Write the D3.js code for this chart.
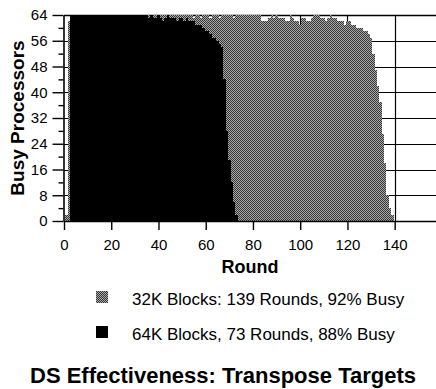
<!DOCTYPE html>
<html>
<head>
<meta charset="utf-8">
<script src="https://cdnjs.cloudflare.com/ajax/libs/d3/7.8.5/d3.min.js"></script>
<style>
    body { margin: 0; background: #fff; }
    svg { display: block; font-family: 'Liberation Sans', Arial, Helvetica, sans-serif; }
</style>
</head>
<body>
<div class="chart"></div>
<script>
// busy processors per round, round 1 first
var busy32k = [
    2, 62, 64, 64, 64, 64, 64, 64, 64, 64,
    64, 64, 64, 64, 64, 64, 64, 64, 64, 64,
    64, 64, 64, 64, 64, 64, 64, 64, 64, 64,
    64, 64, 64, 64, 64, 64, 64, 64, 64, 64,
    64, 64, 64, 64, 64, 64, 64, 64, 64, 64,
    64, 64, 64, 64, 63, 64, 64, 63, 64, 64,
    64, 63, 64, 64, 64, 63, 64, 64, 64, 64,
    64, 63, 64, 64, 64, 64, 64, 64, 64, 64,
    64, 64, 64, 62, 62, 62, 63, 64, 63, 64,
    63, 63, 63, 62, 62, 64, 63, 62, 62, 61,
    63, 63, 62, 62, 63, 64, 64, 64, 63, 63,
    62, 63, 64, 63, 63, 62, 62, 62, 61, 62,
    62, 61, 61, 60, 60, 60, 59, 59, 58, 57,
    52, 47, 42, 37, 27, 18, 8, 4, 2
];

var busy64k = [
    0, 0, 64, 64, 64, 64, 64, 64, 64, 64,
    64, 64, 64, 64, 64, 64, 64, 64, 64, 64,
    64, 64, 64, 64, 64, 64, 64, 64, 64, 64,
    64, 64, 64, 64, 64, 63, 64, 63, 63, 64,
    63, 62, 63, 64, 63, 63, 63, 62, 63, 63,
    62, 63, 62, 62, 62, 61, 61, 61, 60, 59,
    59, 58, 57, 57, 56, 55, 54, 44, 28, 19,
    12, 6, 2
];

var xTicks = [0, 20, 40, 60, 80, 100, 120, 140];
var yTicks = [0, 8, 16, 24, 32, 40, 48, 56, 64];
var yMinorTicks = [4, 12, 20, 28, 36, 44, 52, 60];
var legendLabels = ['32K Blocks: 139 Rounds, 92% Busy', '64K Blocks, 73 Rounds, 88% Busy'];
var chartTitle = 'DS Effectiveness: Transpose Targets';

var fullWidth = 436;
var fullHeight = 389;

var svg = d3.select('.chart')
            .append('svg')
            .attr('width', fullWidth)
            .attr('height', fullHeight);

svg.append('rect')
   .attr('width', fullWidth)
   .attr('height', fullHeight)
   .attr('fill', '#fff');

// halftone grey like the scan
var pat = svg.append('defs')
             .append('pattern')
             .attr('id', 'dither')
             .attr('patternUnits', 'userSpaceOnUse')
             .attr('width', 2)
             .attr('height', 2);
pat.append('rect').attr('width', 2).attr('height', 2).attr('fill', '#a6a6a6');
pat.append('rect').attr('width', 1).attr('height', 1).attr('fill', '#383838');
pat.append('rect').attr('x', 1).attr('y', 1).attr('width', 1).attr('height', 1).attr('fill', '#383838');

var x = d3.scaleLinear()
          .domain([0, 158])
          .range([64, 437.2]);

var y = d3.scaleLinear()
          .domain([0, 64])
          .range([221, 15]);

var barW = x(1) - x(0);

// grid
svg.append('g')
   .selectAll('line')
   .data(yTicks)
   .enter().append('line')
   .attr('x1', x(0))
   .attr('x2', fullWidth)
   .attr('y1', function (d) { return Math.round(y(d)) + 0.5; })
   .attr('y2', function (d) { return Math.round(y(d)) + 0.5; })
   .attr('stroke', '#000')
   .attr('stroke-width', function (d) { return d === 64 ? 1.6 : 1; });

svg.append('g')
   .selectAll('line')
   .data(xTicks.slice(1))
   .enter().append('line')
   .attr('x1', function (d) { return Math.round(x(d)) + 0.5; })
   .attr('x2', function (d) { return Math.round(x(d)) + 0.5; })
   .attr('y1', y(64))
   .attr('y2', y(0))
   .attr('stroke', '#000')
   .attr('stroke-width', 1.2);

function drawBars(data, fill) {
    svg.append('g')
       .attr('shape-rendering', 'crispEdges')
       .selectAll('rect')
       .data(data)
       .enter().append('rect')
       .attr('x', function (d, i) { return x(i + 0.5); })
       .attr('width', barW)
       .attr('y', function (d) { return y(d); })
       .attr('height', function (d) { return y(0) - y(d); })
       .attr('fill', fill);
}

drawBars(busy32k, 'url(#dither)');
drawBars(busy64k, '#000');

// axes
var xAxis = svg.append('g')
               .attr('transform', 'translate(0,221)')
               .call(d3.axisBottom(x)
                       .tickValues(xTicks)
                       .tickSize(9)
                       .tickPadding(9)
                       .tickSizeOuter(0));

var yAxis = svg.append('g')
               .attr('transform', 'translate(63.5,0)')
               .call(d3.axisLeft(y)
                       .tickValues(yTicks)
                       .tickSize(11)
                       .tickPadding(5)
                       .tickSizeOuter(0));

svg.append('g')
   .attr('transform', 'translate(63.5,0)')
   .call(d3.axisLeft(y)
           .tickValues(yMinorTicks)
           .tickSize(5)
           .tickFormat(''))
   .select('.domain').remove();

svg.selectAll('.tick line').attr('stroke-width', 1.4);
svg.selectAll('.domain').attr('stroke-width', 1.6);
[xAxis, yAxis].forEach(function (a) {
    a.attr('font-family', null)
     .attr('font-size', 15)
     .selectAll('text').attr('fill', '#000');
});

svg.append('text')
   .attr('transform', 'translate(24,118) rotate(-90)')
   .attr('text-anchor', 'middle')
   .attr('font-size', 19)
   .attr('font-weight', 'bold')
   .text('Busy Processors');

svg.append('text')
   .attr('x', 250)
   .attr('y', 273)
   .attr('text-anchor', 'middle')
   .attr('font-size', 18)
   .attr('font-weight', 'bold')
   .text('Round');

// legend
var legend = svg.append('g')
                .selectAll('g')
                .data(legendLabels)
                .enter().append('g')
                .attr('transform', function (d, i) { return 'translate(0,' + (305 + i * 35) + ')'; });

legend.append('rect')
      .attr('x', 96)
      .attr('y', -14)
      .attr('width', 12)
      .attr('height', 12)
      .attr('fill', function (d, i) { return i === 0 ? 'url(#dither)' : '#000'; });

legend.append('text')
      .attr('x', 132)
      .attr('font-size', 17)
      .text(function (d) { return d; });

svg.append('text')
   .attr('x', 223)
   .attr('y', 383)
   .attr('text-anchor', 'middle')
   .attr('font-size', 22)
   .attr('font-weight', 'bold')
   .text(chartTitle);
</script>
</body>
</html>
